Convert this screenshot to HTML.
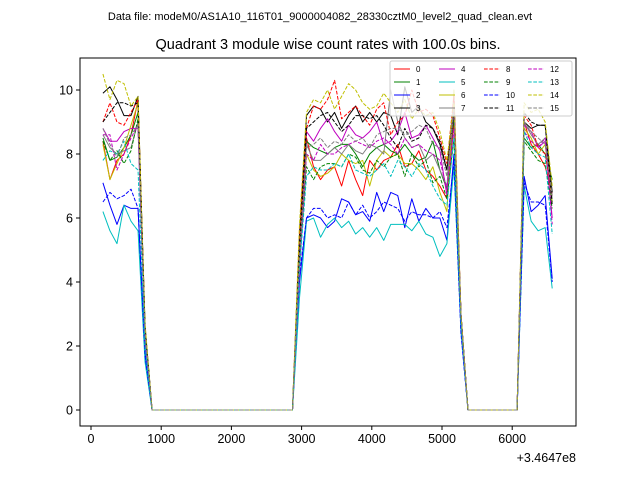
<!DOCTYPE html>
<html><head><meta charset="utf-8"><style>
html,body{margin:0;padding:0;background:#fff;}
svg{display:block;font-family:"Liberation Sans","DejaVu Sans",sans-serif;}
</style></head><body>
<svg id="chart" width="640" height="480" viewBox="0 0 640 480">
<text x="320" y="20" font-size="11" text-anchor="middle">Data file: modeM0/AS1A10_116T01_9000004082_28330cztM0_level2_quad_clean.evt</text>
<text x="328" y="49" font-size="14.5" text-anchor="middle">Quadrant 3 module wise count rates with 100.0s bins.</text>
<g id="plot"></g>
<g id="axes"></g>
<g id="legend"></g>
</svg>
<script>
const times = [170,270,370,470,570,670,770,870,970,1070,1170,1270,1370,1470,1570,1670,1770,1870,1970,2070,2170,2270,2370,2470,2570,2670,2770,2870,2970,3070,3170,3270,3370,3470,3570,3670,3770,3870,3970,4070,4170,4270,4370,4470,4570,4670,4770,4870,4970,5070,5170,5270,5370,5470,5570,5670,5770,5870,5970,6070,6170,6270,6370,6470,6570];
const zerosA = [0,0,0,0,0,0,0,0,0,0,0,0,0,0,0,0,0,0,0,0,0];
const zerosB = [0,0,0,0,0,0,0,0];
const seriesNames = ['0','1','2','3','4','5','6','7','8','9','10','11','12','13','14','15'];
const xTicks = [0,1000,2000,3000,4000,5000,6000];
const yTicks = [0,2,4,6,8,10];
const seg1 = [
[8.4,7.2,7.8,8.0,8.6,9.7,2.5],
[8.5,7.8,7.9,8.2,8.6,9.3,2.4],
[7.1,6.4,5.8,6.4,6.3,6.3,1.8],
[9.9,10.1,9.7,9.2,9.2,9.8,2.6],
[8.8,8.4,8.4,8.7,8.8,8.8,2.2],
[6.2,5.6,5.2,6.4,5.9,5.6,1.5],
[8.3,7.2,7.7,8.2,8.9,9.6,2.5],
[8.6,8.2,8.0,8.1,8.2,9.0,2.4],
[9.0,9.6,9.0,8.9,9.3,9.7,2.5],
[8.4,7.8,8.1,7.7,8.1,9.1,2.3],
[6.5,6.8,6.6,6.7,6.9,6.3,1.7],
[9.0,9.3,9.6,9.6,9.5,9.6,2.6],
[8.6,8.6,7.5,8.0,8.5,8.9,2.2],
[7.8,8.1,8.0,8.4,7.7,7.5,2.0],
[10.5,9.7,10.3,10.2,9.5,9.8,2.7],
[8.8,8.3,7.9,8.5,8.6,8.9,2.4]];
const seg2 = [
[4.5,8.5,7.6,7.2,7.5,7.6,7.0,7.8,7.2,6.7,7.8,7.5,7.8,7.9,8.3,7.6,7.7,8.1,7.5,7.3,7.0,6.6,9.0,3.0],
[4.8,8.4,8.2,8.1,8.0,8.2,8.3,8.3,8.0,7.6,8.0,8.2,8.3,8.1,8.0,8.3,8.0,7.8,7.9,8.4,7.5,6.9,9.2,3.0],
[4.0,6.0,6.1,6.0,5.7,5.9,6.6,6.5,6.1,6.2,5.9,6.8,6.2,6.8,6.7,5.7,6.6,5.9,6.3,6.0,6.0,5.3,8.0,2.5],
[5.5,9.2,9.5,9.4,9.0,9.3,8.8,9.2,9.5,9.0,9.3,9.0,9.3,9.2,8.6,10.1,9.3,9.5,9.0,8.8,8.3,7.5,9.6,3.0],
[4.5,8.7,8.4,8.8,9.1,8.7,8.4,8.9,8.6,8.5,8.7,9.0,8.3,8.4,8.7,9.3,8.5,8.6,8.9,8.5,8.1,6.7,9.5,3.0],
[3.5,5.9,6.0,5.4,5.8,6.0,5.7,5.9,5.5,5.7,5.4,5.7,5.3,5.8,5.8,5.8,5.6,5.9,5.5,5.4,4.8,5.2,7.6,2.5],
[5.0,8.0,7.5,7.3,7.4,7.6,8.0,7.8,7.7,7.8,7.0,7.8,8.1,7.9,8.0,7.7,7.7,7.5,7.2,7.6,6.8,6.2,10.0,3.0],
[5.0,8.3,7.8,7.8,8.0,8.2,8.0,8.3,8.1,8.0,8.3,8.2,8.0,10.0,9.0,8.5,8.2,8.3,7.8,8.0,7.5,7.0,9.8,3.0],
[5.5,8.8,9.5,9.4,9.7,10.3,9.1,9.3,9.5,9.2,8.9,9.4,9.6,8.6,9.0,9.2,10.0,9.3,9.4,9.2,8.5,7.7,9.8,3.0],
[4.6,7.6,7.2,7.6,7.7,7.7,7.6,8.0,7.9,7.5,7.4,7.8,7.6,7.9,8.0,7.3,8.0,7.6,7.8,7.1,7.3,6.6,8.5,3.0],
[4.2,6.0,6.3,6.3,6.0,6.1,6.0,6.5,6.1,6.4,6.0,6.2,6.5,6.4,6.3,5.9,6.2,6.1,6.1,6.0,6.2,5.7,7.8,2.4],
[5.0,8.8,9.0,9.2,9.3,9.0,8.7,8.9,9.2,9.2,9.1,9.2,8.9,8.5,8.2,8.8,8.4,8.5,8.9,8.8,8.4,7.5,9.3,3.0],
[4.3,8.0,7.8,8.3,8.0,8.0,8.2,8.3,8.4,8.3,8.2,8.4,8.5,8.3,8.0,8.5,8.2,8.3,8.1,8.0,7.8,6.9,8.8,3.0],
[4.4,7.3,7.6,7.5,7.5,7.7,7.6,8.0,7.5,7.4,7.3,7.5,7.7,7.3,7.8,7.6,7.3,7.7,7.5,7.0,6.6,6.4,8.5,2.8],
[5.8,9.3,9.7,9.6,10.0,9.4,9.8,10.2,10.0,9.6,9.4,9.5,9.9,9.6,9.3,9.7,9.1,9.4,9.2,9.3,8.7,7.8,9.6,3.0],
[4.8,8.2,8.3,8.5,8.2,8.4,8.3,8.6,8.4,8.5,8.2,8.6,8.7,8.8,8.8,8.6,8.7,8.9,8.8,8.3,8.2,7.3,9.4,3.0]];
const seg3 = [
[9.0,8.3,8.0,7.6,6.8],
[8.5,8.2,8.3,8.0,7.2],
[7.3,6.2,6.4,6.7,4.1],
[9.0,8.8,8.9,8.9,6.8],
[8.9,8.7,8.2,8.4,6.0],
[7.0,5.9,5.6,5.7,3.8],
[8.8,8.5,8.0,8.3,6.5],
[9.0,8.6,8.3,8.5,6.6],
[9.2,8.9,8.2,8.0,6.7],
[8.4,8.1,7.8,7.7,6.3],
[7.1,6.5,6.5,6.4,4.0],
[9.3,9.0,8.9,8.9,6.4],
[8.7,8.4,8.2,8.5,5.8],
[8.7,8.2,8.0,7.9,5.5],
[9.6,9.3,9.4,9.0,7.0],
[9.0,8.7,8.5,8.3,6.7]];

const colors = ['#ff0000','#008000','#0000ff','#000000','#bf00bf','#00bfbf','#bfbf00','#808080'];
const NS = 'http://www.w3.org/2000/svg';
const L = 80, R = 576, T = 58, B = 426;
function xs(t){ return 91 + (t) * 0.0702; }
function ys(v){ return 410 - v * 32; }
function mk(tag, attrs, parent){ const e = document.createElementNS(NS, tag); for (const k in attrs) e.setAttribute(k, attrs[k]); parent.appendChild(e); return e; }

const plot = document.getElementById('plot');
for (let s = 0; s < 16; s++) {
  const vals = seg1[s].concat(zerosA, seg2[s], zerosB, seg3[s]);
  const pts = vals.map((v, i) => xs(times[i]).toFixed(2) + ',' + ys(v).toFixed(2)).join(' ');
  const a = { points: pts, fill: 'none', stroke: colors[s % 8], 'stroke-width': 1, 'stroke-linejoin': 'round' };
  if (s >= 8) a['stroke-dasharray'] = '3.7,1.6';
  const pl = mk('polyline', a, plot);
  
  
}

const axes = document.getElementById('axes');
const frame = mk('rect', { x: L, y: T, width: R - L, height: B - T, fill: 'none', stroke: '#000', 'stroke-width': 1 }, axes);


xTicks.forEach(t => {
  const x = xs(t);
  const tk = mk('line', { x1: x, y1: B, x2: x, y2: B + 4, stroke: '#000', 'stroke-width': 1 }, axes);
  
  
  const lb = mk('text', { x: x, y: B + 17, 'font-size': 12.5, 'text-anchor': 'middle' }, axes);
  lb.textContent = String(t);
  
  
});
yTicks.forEach(v => {
  const y = ys(v);
  const tk = mk('line', { x1: L - 4, y1: y, x2: L, y2: y, stroke: '#000', 'stroke-width': 1 }, axes);
  
  
  const lb = mk('text', { x: L - 7, y: y + 4.5, 'font-size': 12.5, 'text-anchor': 'end' }, axes);
  lb.textContent = String(v);
  
  
});
const off = mk('text', { x: 576, y: 462, 'font-size': 12.5, 'text-anchor': 'end' }, axes);
off.textContent = '+3.4647e8';



const leg = document.getElementById('legend');
const box = mk('rect', { x: 390, y: 61, width: 182, height: 55, rx: 2, fill: '#fff', 'fill-opacity': 0.8, stroke: '#ccc', 'stroke-width': 1 }, leg);


const colX = [394, 439, 484, 528];
const rowY = [69, 82, 95, 108];
for (let s = 0; s < 16; s++) {
  const cx = colX[Math.floor(s / 4)], cy = rowY[s % 4];
  const g = mk('g', {}, leg);
  
  
  const a = { x1: cx, y1: cy, x2: cx + 16, y2: cy, stroke: colors[s % 8], 'stroke-width': 1 };
  if (s >= 8) a['stroke-dasharray'] = '3.7,1.6';
  mk('line', a, g);
  const t = mk('text', { x: cx + 22, y: cy + 3, 'font-size': 8 }, g);
  t.textContent = seriesNames[s];
}
</script>
</body></html>
